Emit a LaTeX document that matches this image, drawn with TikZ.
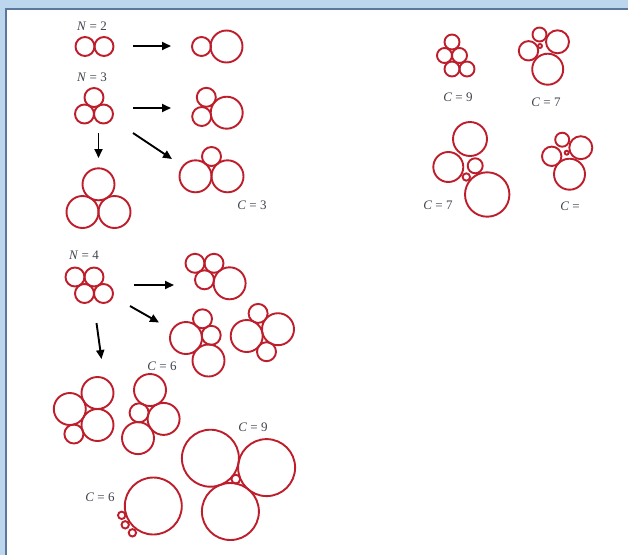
\documentclass[tikz,border=0pt]{standalone}
\usepackage{fontspec}
\setmainfont{Liberation Serif}
\usetikzlibrary{arrows.meta}
\definecolor{ringred}{HTML}{BE1E2B}
\definecolor{tagtext}{HTML}{3F444E}
\definecolor{framebg}{HTML}{BCD6EE}
\definecolor{frameline}{HTML}{5B7799}

\begin{document}
\begin{tikzpicture}[x=1pt, y=-1pt,
    bubble/.style={draw=ringred, line width=1.9pt},
    push/.style={-{Triangle[length=9pt, width=8pt]}, line width=1.9pt},
    tag/.style={font=\fontsize{13}{15}\selectfont, text=tagtext, inner sep=0pt},
]
\useasboundingbox (0,0) rectangle (628,555);
\fill[framebg] (0,0) rectangle (628,555);
\fill[white] (6,9) rectangle (628,555);
\draw[frameline, line width=2.4pt] (6.2,555) -- (6.2,9.2) -- (628,9.2);

% labels
\node[tag] (n2) at (92,26) {\textit{N} = 2};
\node[tag] (n3) at (92,77) {\textit{N} = 3};
\node[tag] (n4) at (84,255) {\textit{N} = 4};
\node[tag] (c3) at (252,205) {\textit{C} = 3};
\node[tag] (c6a) at (162,366) {\textit{C} = 6};
\node[tag] (c9a) at (253,427) {\textit{C} = 9};
\node[tag] (c6b) at (100,497) {\textit{C} = 6};
\node[tag] (c9b) at (458,97) {\textit{C} = 9};
\node[tag] (c7a) at (546,102) {\textit{C} = 7};
\node[tag] (c7b) at (438,205) {\textit{C} = 7};
\node[tag] (cx) at (570,206) {\textit{C} =};

% arrows
\coordinate (a1s) at (133,46);   \coordinate (a1e) at (171,46);
\coordinate (a2s) at (133,108);  \coordinate (a2e) at (171,108);
\coordinate (a3s) at (98.5,133); \coordinate (a3e) at (98.5,158);
\coordinate (a4s) at (133,133);  \coordinate (a4e) at (172,159);
\coordinate (a5s) at (134,285);  \coordinate (a5e) at (174,285);
\coordinate (a6s) at (130,306);  \coordinate (a6e) at (159,322.5);
\coordinate (a7s) at (96.5,323); \coordinate (a7e) at (101.5,359);
\draw[push] (a1s) -- (a1e);
\draw[push] (a2s) -- (a2e);
\draw[push] (a3s) -- (a3e);
\draw[push] (a4s) -- (a4e);
\draw[push] (a5s) -- (a5e);
\draw[push] (a6s) -- (a6e);
\draw[push] (a7s) -- (a7e);

% N = 2
\draw[bubble] (85,46.5) circle (9.5pt);
\draw[bubble] (104,46.5) circle (9.5pt);
\draw[bubble] (201.5,46.5) circle (9.5pt);
\draw[bubble] (226.5,46.5) circle (16pt);

% N = 3
\draw[bubble] (94,97.5) circle (9.5pt);
\draw[bubble] (84.5,114) circle (9.5pt);
\draw[bubble] (103.5,114) circle (9.5pt);
\draw[bubble] (206.3,97.3) circle (9.5pt);
\draw[bubble] (201.7,116.5) circle (9.5pt);
\draw[bubble] (226.7,112.7) circle (16pt);
\draw[bubble] (98.5,184.3) circle (16pt);
\draw[bubble] (82.5,212) circle (16pt);
\draw[bubble] (114.5,212) circle (16pt);
\draw[bubble] (211.5,156.5) circle (9.5pt);
\draw[bubble] (195.5,176.3) circle (16pt);
\draw[bubble] (227.5,176.3) circle (16pt);

% N = 4
\draw[bubble] (75,277) circle (9.5pt);
\draw[bubble] (94,277) circle (9.5pt);
\draw[bubble] (84.5,293.5) circle (9.5pt);
\draw[bubble] (103.5,293.5) circle (9.5pt);
\draw[bubble] (195,263.3) circle (9.5pt);
\draw[bubble] (214,263.3) circle (9.5pt);
\draw[bubble] (204.5,279.8) circle (9.5pt);
\draw[bubble] (229.6,283.3) circle (16pt);
\draw[bubble] (186,338) circle (16pt);
\draw[bubble] (208.5,360.5) circle (16pt);
\draw[bubble] (211.2,335.3) circle (9.5pt);
\draw[bubble] (202.5,318.8) circle (9.5pt);
\draw[bubble] (246.7,336) circle (16pt);
\draw[bubble] (278,329.2) circle (16pt);
\draw[bubble] (258.1,313.4) circle (9.5pt);
\draw[bubble] (266.5,351.7) circle (9.5pt);
\draw[bubble] (97.5,393) circle (16pt);
\draw[bubble] (97.5,425) circle (16pt);
\draw[bubble] (69.8,409) circle (16pt);
\draw[bubble] (73.9,434) circle (9.5pt);
\draw[bubble] (150,390) circle (16pt);
\draw[bubble] (163.6,418.9) circle (16pt);
\draw[bubble] (139.1,412.8) circle (9.5pt);
\draw[bubble] (138,438.1) circle (16pt);

% C = 9 and C = 6, bottom
\draw[bubble] (210.4,458.2) circle (28.5pt);
\draw[bubble] (266.6,467.6) circle (28.5pt);
\draw[bubble] (230.4,511.5) circle (28.5pt);
\draw[bubble] (235.8,479.1) circle (4.4pt);
\draw[bubble] (153.3,506) circle (28.5pt);
\draw[bubble] (121.7,515.3) circle (3.7pt);
\draw[bubble] (125.2,524.8) circle (3.7pt);
\draw[bubble] (132.4,532.8) circle (3.7pt);

% right side
\draw[bubble] (452,42) circle (7.5pt);
\draw[bubble] (444.5,55.5) circle (7.5pt);
\draw[bubble] (459.5,55.5) circle (7.5pt);
\draw[bubble] (452,69) circle (7.5pt);
\draw[bubble] (467,69) circle (7.5pt);
\draw[bubble] (539.5,34.5) circle (7pt);
\draw[bubble] (528.5,50.8) circle (9.7pt);
\draw[bubble] (557.5,41.8) circle (11.5pt);
\draw[bubble] (547.7,69.2) circle (15.5pt);
\draw[bubble] (540,46) circle (2pt);
\draw[bubble] (470,139) circle (17pt);
\draw[bubble] (448.3,167) circle (15pt);
\draw[bubble] (475.2,165.8) circle (7.5pt);
\draw[bubble] (466.3,177) circle (3.7pt);
\draw[bubble] (487.2,194.5) circle (22.2pt);
\draw[bubble] (562.2,139.7) circle (7pt);
\draw[bubble] (551.7,156.3) circle (9.7pt);
\draw[bubble] (580.8,147.7) circle (11.5pt);
\draw[bubble] (569.5,174.2) circle (15.5pt);
\draw[bubble] (566.7,152.7) circle (2pt);

\end{tikzpicture}
\end{document}
